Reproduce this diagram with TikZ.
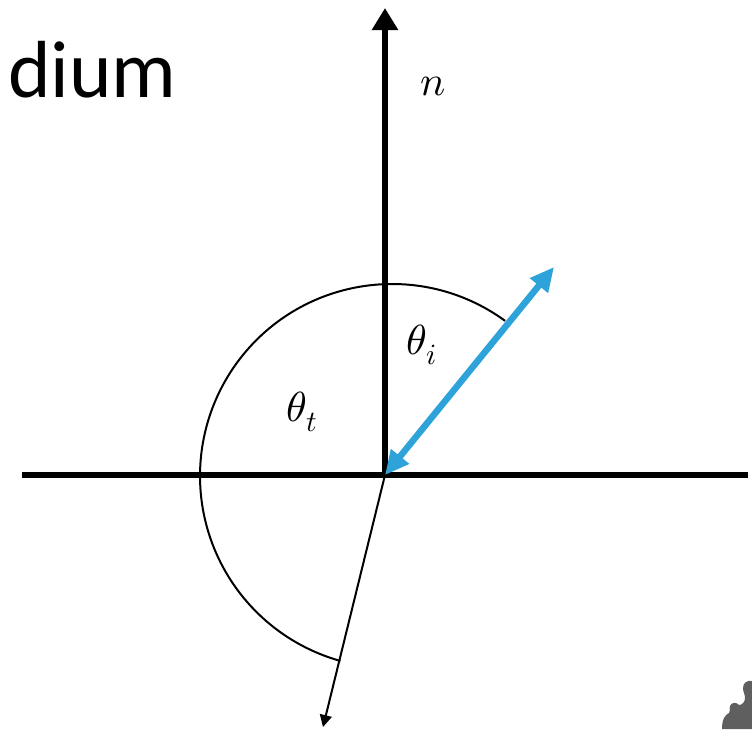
\documentclass[tikz,border=0pt]{standalone}
\usepackage{fontspec}
\usepackage{unicode-math}
\setmathfont{Latin Modern Math}
\newfontfamily\calib{Carlito}
\usetikzlibrary{arrows.meta}
\definecolor{rayblue}{HTML}{2EA3DA}
\definecolor{blobgray}{HTML}{5F5F5F}
\begin{document}
\begin{tikzpicture}[x=1pt,y=-1pt,
  thickline/.style={line width=6.5pt},
  thinline/.style={line width=2pt},
  mlabel/.style={inner sep=0pt,font=\fontsize{42}{48}\selectfont},
]
\useasboundingbox (0,0) rectangle (752,729);
\coordinate (O) at (385,475);
\coordinate (L) at (22,475);
\coordinate (R) at (748,475);
\coordinate (N) at (385,8);
\coordinate (I) at (554,267);
\coordinate (T) at (323,727);
\coordinate (C) at (392,476);
% surface
\draw[thickline] (L) -- (R);
% arc
\draw[thinline] ([shift={(-53.9:192)}]C) arc[start angle=-53.9,end angle=-254.4,radius=192];
% normal
\draw[thickline,-{Triangle[width=25pt,length=22pt]}] (O) -- (N);
% transmitted ray
\draw[thinline,-{Triangle[width=12pt,length=12pt]}] (O) -- (T);
% incident (double) ray
\draw[line width=6.5pt,rayblue,{Triangle[width=22pt,length=24pt]}-{Triangle[width=22pt,length=24pt]}] (O) -- (I);
% labels
\node[mlabel] (n) at (433,86) {$n$};
\node[mlabel] (ti) at (422,345) {$\theta_i$};
\node[mlabel] (tt) at (302,412) {$\theta_t$};
\node[anchor=base east,inner sep=0pt,font=\calib\fontsize{81}{90}\selectfont] (dium) at (177,97) {dium};
% partial icon, bottom right
\fill[blobgray] (752,681) .. controls (747,680) and (743,683) .. (743,688)
  .. controls (743,692) and (745,694) .. (745,698)
  .. controls (745,702) and (742,705) .. (739,705)
  .. controls (737,702) and (731,702) .. (730,706)
  .. controls (729,710) and (731,711) .. (729,713)
  .. controls (725,715) and (722,719) .. (722,729)
  -- (752,729) -- cycle;
\end{tikzpicture}
\end{document}
